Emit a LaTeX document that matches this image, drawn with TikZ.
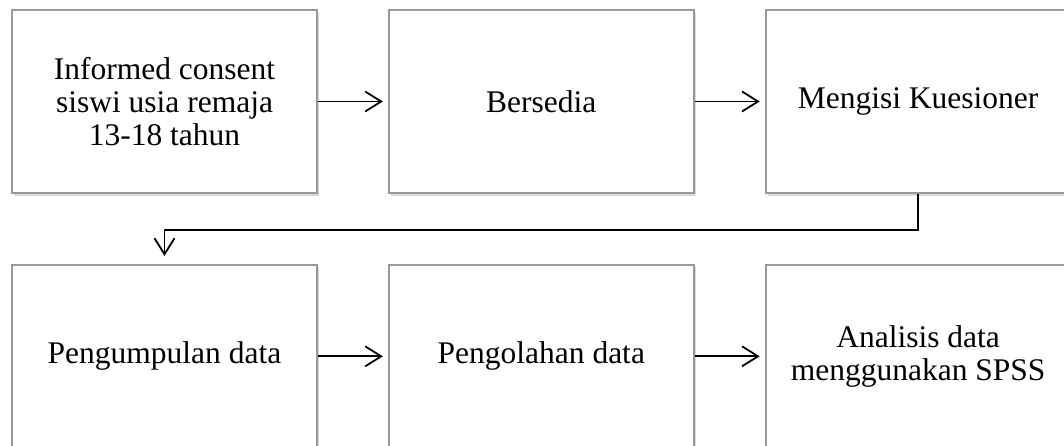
\documentclass[tikz,border=0pt]{standalone}
\usepackage{fontspec}
\setmainfont{Liberation Serif}
\usetikzlibrary{positioning, arrows.meta, shadows}

\begin{document}
\begin{tikzpicture}[>={Straight Barb[length=16pt,width=20pt]},
    box/.style={draw=black!40,line width=1.8pt,fill=white,
        minimum width=305pt,minimum height=183pt,inner sep=0pt,
        align=center,font=\fontsize{31.5}{33}\selectfont,
        drop shadow={shadow xshift=2pt,shadow yshift=-2.5pt,opacity=0.3}},
    flow/.style={->,line width=1.8pt,black}]
    \useasboundingbox (0,0) rectangle (1064pt,-445pt);
    \node[box] (consent) at (164.5pt,-101.5pt) {Informed consent\\siswi usia remaja\\13-18 tahun};
    \node[box,right=70pt of consent] (sedia) {Bersedia};
    \node[box,right=70pt of sedia] (isi) {Mengisi Kuesioner};
    \node[box,below=70pt of consent] (kumpul) {Pengumpulan data};
    \node[box,right=70pt of kumpul] (olah) {Pengolahan data};
    \node[box,right=70pt of olah] (analisis) {Analisis data\\menggunakan SPSS};
    \draw[flow,shorten >=5pt] (consent) -- (sedia);
    \draw[flow,shorten >=5pt] (sedia) -- (isi);
    \draw[flow] (isi.south) -- ++(0,-36pt) -| ([yshift=8pt]kumpul.north);
    \draw[flow,shorten >=5pt] (kumpul) -- (olah);
    \draw[flow,shorten >=5pt] (olah) -- (analisis);
\end{tikzpicture}
\end{document}
